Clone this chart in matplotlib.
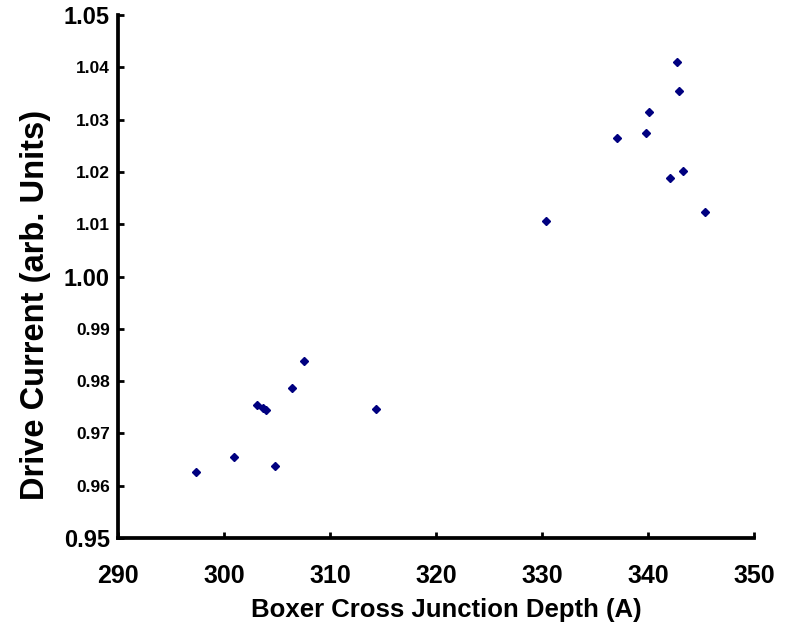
import numpy as np
import matplotlib
matplotlib.use("Agg")
import matplotlib.pyplot as plt

plt.rcParams['font.family'] = ['Liberation Sans', 'DejaVu Sans']
plt.rcParams['font.weight'] = 'bold'

# Boxer Cross junction depth (A) vs drive current (arb. units)
depth = [297.4, 300.9, 304.8, 303.1, 303.7, 304.0, 306.4, 307.5, 314.3,
         330.4, 337.1, 339.8, 340.1, 342.7, 342.9, 342.1, 343.3, 345.4]
current = [0.9626, 0.9654, 0.9638, 0.9755, 0.9749, 0.9744, 0.9787, 0.9839, 0.9747,
           1.0107, 1.0265, 1.0275, 1.0314, 1.0410, 1.0355, 1.0189, 1.0202, 1.0123]

x_ticks = [290, 300, 310, 320, 330, 340, 350]
y_ticks = [0.95, 0.96, 0.97, 0.98, 0.99, 1.00, 1.01, 1.02, 1.03, 1.04, 1.05]
y_big = [0.95, 1.00, 1.05]

fig = plt.figure(figsize=(7.95, 6.25), dpi=100)
ax = fig.add_axes([118 / 795, 1 - 538 / 625, 636 / 795, 523 / 625])

ax.plot(depth, current, linestyle="none", marker="D", markersize=4.2,
        color="#000080", markeredgecolor="#000080")

ax.set_xlim(290, 350)
ax.set_ylim(0.95, 1.05)
ax.set_xticks(x_ticks)
ax.set_xticklabels([str(v) for v in x_ticks], fontsize=18, fontweight="bold")
ax.set_yticks(y_ticks)
ax.set_yticklabels([f"{v:.2f}" for v in y_ticks], fontweight="bold")
for lab, v in zip(ax.get_yticklabels(), y_ticks):
    lab.set_fontsize(17 if round(v, 2) in y_big else 12.5)

for s in ["top", "right"]:
    ax.spines[s].set_visible(False)
for s in ["left", "bottom"]:
    ax.spines[s].set_linewidth(2.7)

ax.tick_params(axis="x", direction="in", length=4, width=2, pad=19)
ax.tick_params(axis="y", direction="in", length=4, width=2, pad=6)

ax.set_xlabel("Boxer Cross Junction Depth (A)", fontsize=18.5, fontweight="bold")
ax.set_ylabel("Drive Current (arb. Units)", fontsize=23.5, fontweight="bold")
ax.xaxis.set_label_coords(0.516, -0.114)
ax.yaxis.set_label_coords(-0.105, 0.445)

fig.savefig("out.png", dpi=100)
